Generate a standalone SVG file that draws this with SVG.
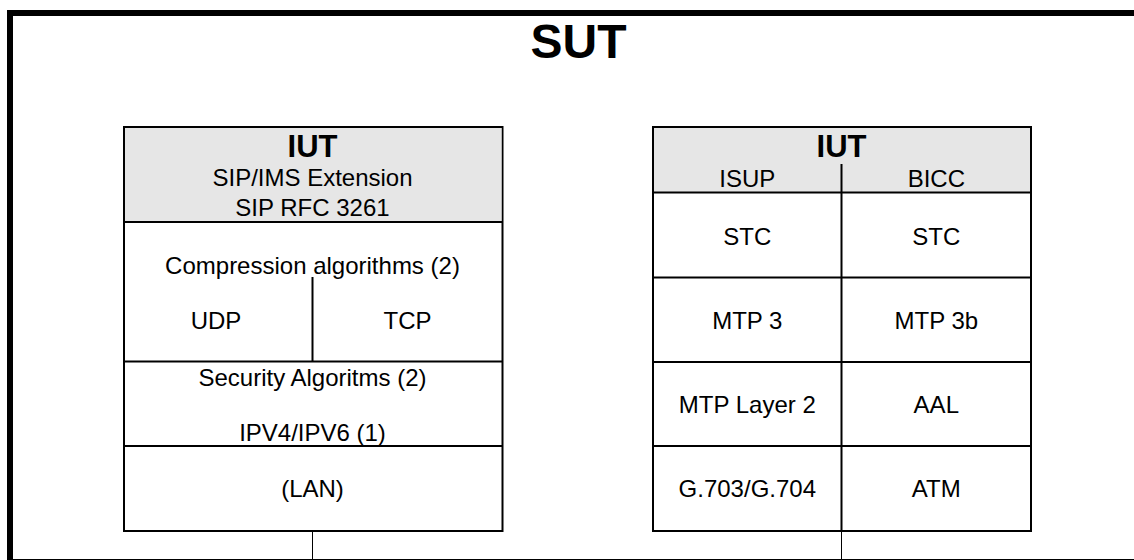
<svg xmlns="http://www.w3.org/2000/svg" width="1134" height="560" viewBox="0 0 1134 560">
  <style>
    text { font-family: "Liberation Sans", Arial, sans-serif; fill: #000; text-anchor: middle; }
    .t { font-size: 24px; }
    .b { font-size: 31px; font-weight: bold; }
    .title { font-size: 48px; font-weight: bold; }
    .box { fill: #fff; stroke: #000; stroke-width: 2; }
    .hdr { fill: #e6e6e6; stroke: none; }
    .ln { stroke: #000; stroke-width: 2; fill: none; }
    .thin { stroke: #000; stroke-width: 1; fill: none; }
  </style>
  <rect x="0" y="0" width="1134" height="560" fill="#fff"/>
  <g id="sut">
    <path d="M10 560 V13 H1134" fill="none" stroke="#000" stroke-width="6"/>
    <line x1="7" y1="559.5" x2="1134" y2="559.5" class="thin"/>
    <text x="578.5" y="58" class="title">SUT</text>
  </g>
  <g id="connectors">
    <line x1="312.5" y1="531" x2="312.5" y2="559" class="thin"/>
    <line x1="841.5" y1="531" x2="841.5" y2="559" class="thin"/>
  </g>
  <g id="iut-sip">
    <rect x="124" y="127" width="378.5" height="404" class="box"/>
    <rect x="125" y="128" width="376.5" height="94" class="hdr"/>
    <line x1="124" y1="222" x2="502.5" y2="222" class="ln"/>
    <line x1="124" y1="361.5" x2="502.5" y2="361.5" class="ln"/>
    <line x1="124" y1="446" x2="502.5" y2="446" class="ln"/>
    <line x1="312.5" y1="277" x2="312.5" y2="361.5" class="ln"/>
    <text x="312.5" y="157" class="b">IUT</text>
    <text x="312.5" y="186" class="t">SIP/IMS Extension</text>
    <text x="312.5" y="216" class="t">SIP RFC 3261</text>
    <text x="312.5" y="274" class="t">Compression algorithms (2)</text>
    <text x="216" y="329" class="t">UDP</text>
    <text x="407.5" y="329" class="t">TCP</text>
    <text x="312.5" y="386" class="t">Security Algoritms (2)</text>
    <text x="312.5" y="441" class="t">IPV4/IPV6 (1)</text>
    <text x="312.5" y="497" class="t">(LAN)</text>
  </g>
  <g id="iut-isup-bicc">
    <rect x="653" y="127" width="378" height="404" class="box"/>
    <rect x="654" y="128" width="376" height="64" class="hdr"/>
    <line x1="653" y1="192.5" x2="1031" y2="192.5" class="ln"/>
    <line x1="653" y1="277.5" x2="1031" y2="277.5" class="ln"/>
    <line x1="653" y1="362" x2="1031" y2="362" class="ln"/>
    <line x1="653" y1="446" x2="1031" y2="446" class="ln"/>
    <line x1="841.5" y1="164" x2="841.5" y2="531" class="ln"/>
    <text x="841.5" y="157" class="b">IUT</text>
    <text x="747.3" y="187" class="t">ISUP</text>
    <text x="936.3" y="187" class="t">BICC</text>
    <text x="747.3" y="245" class="t">STC</text>
    <text x="936.3" y="245" class="t">STC</text>
    <text x="747.3" y="329" class="t">MTP 3</text>
    <text x="936.3" y="329" class="t">MTP 3b</text>
    <text x="747.3" y="413" class="t">MTP Layer 2</text>
    <text x="936.3" y="413" class="t">AAL</text>
    <text x="747.3" y="497" class="t">G.703/G.704</text>
    <text x="936.3" y="497" class="t">ATM</text>
  </g>
</svg>
